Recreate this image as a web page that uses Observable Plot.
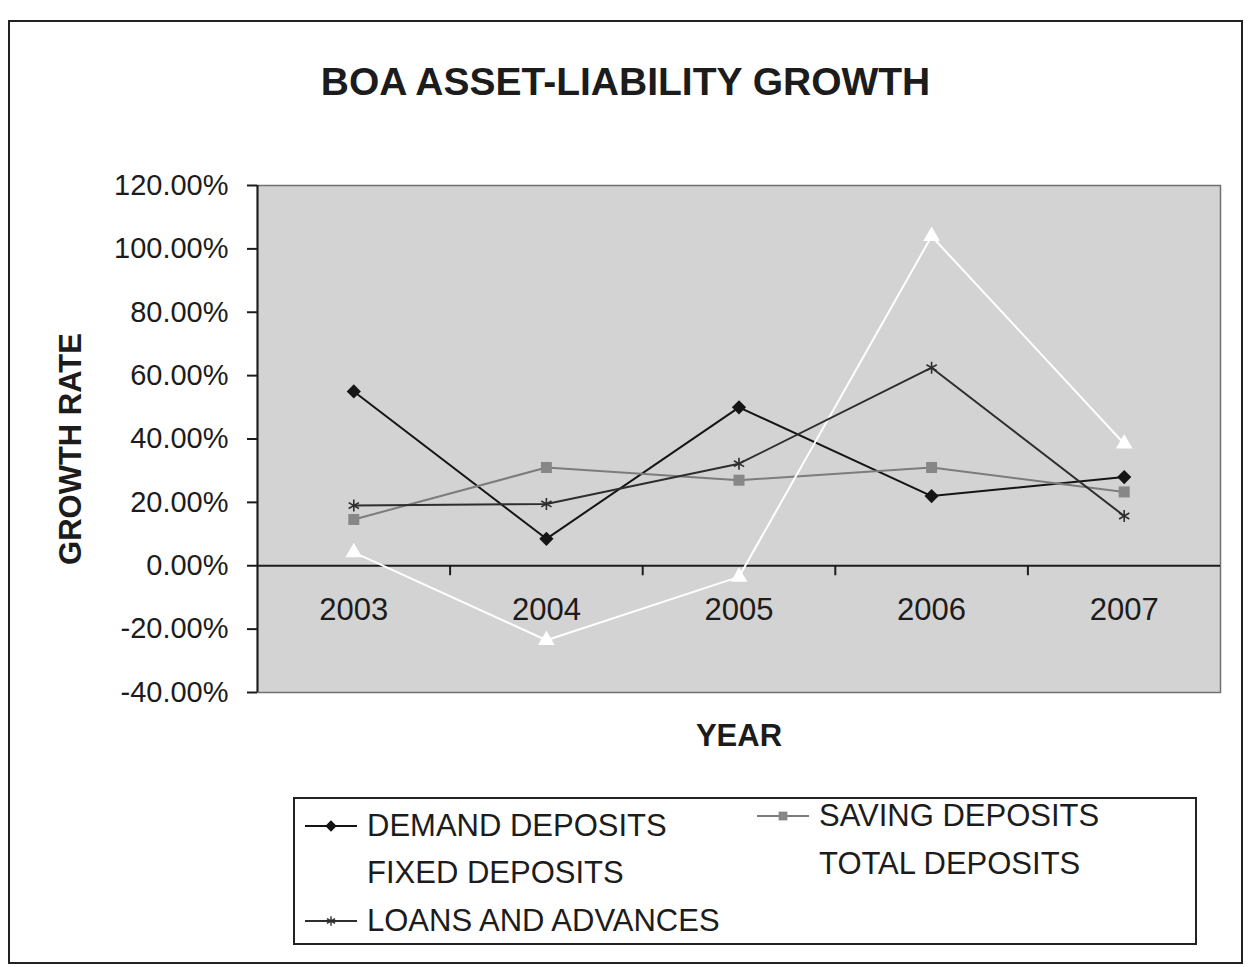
<!DOCTYPE html>
<html>
<head>
<meta charset="utf-8">
<script src="https://cdn.jsdelivr.net/npm/d3@7"></script>
<script src="https://cdn.jsdelivr.net/npm/@observablehq/plot@0.6"></script>
<style>
  body { margin: 0; background: #fff; font-family: "Liberation Sans", Arial, sans-serif; }
  #wrap { position: relative; width: 1257px; height: 967px; overflow: hidden; background: #fff; }
  #frame { position: absolute; left: 8px; top: 20px; width: 1231px; height: 940px; border: 2px solid #222; }
  #title { position: absolute; left: 8px; width: 1235px; top: 62px; line-height: 39px; text-align: center;
           font-weight: bold; font-size: 39px; color: #1c1c1c; }
  #chart { position: absolute; left: 0; top: 130px; }
  #legend { position: absolute; left: 293px; top: 797px; width: 904px; height: 148px; border: 2px solid #222;
            box-sizing: border-box; background: #fff; }
  .item { position: absolute; height: 40px; display: flex; align-items: center; font-size: 31px; color: #1c1c1c; white-space: nowrap; }
  .item svg { margin-right: 10px; }
</style>
</head>
<body>
<div id="wrap">
  <div id="frame"></div>
  <div id="title"></div>
  <div id="chart"></div>
  <div id="legend"></div>
</div>
<script>
// ---- data ----
const chartTitle = "BOA ASSET-LIABILITY GROWTH";
const xTitle = "YEAR";
const yTitle = "GROWTH RATE";
const years = [2003, 2004, 2005, 2006, 2007];
const demandDeposits   = [0.550, 0.085, 0.500, 0.220, 0.280];
const savingDeposits   = [0.146, 0.310, 0.270, 0.310, 0.233];
const fixedDeposits    = null; // not visible in the chart
const totalDeposits    = [0.042, -0.235, -0.035, 1.040, 0.385];
const loansAndAdvances = [0.190, 0.195, 0.322, 0.625, 0.157];
const yTicks = [-0.4, -0.2, 0, 0.2, 0.4, 0.6, 0.8, 1.0, 1.2];
const legendNames = ["DEMAND DEPOSITS", "SAVING DEPOSITS", "FIXED DEPOSITS", "TOTAL DEPOSITS", "LOANS AND ADVANCES"];

// ---- styles (kept separate from data) ----
const styles = {
  "DEMAND DEPOSITS":    {values: demandDeposits,   line: "#151515", fill: "#151515", stroke: "none", symbol: "diamond2", r: 6.4, w: 2},
  "SAVING DEPOSITS":    {values: savingDeposits,   line: "#7c7c7c", fill: "#878787", stroke: "none", symbol: "square",   r: 6.2, w: 2},
  "FIXED DEPOSITS":     {values: fixedDeposits,    line: "#f4f4f4", fill: "#f4f4f4", stroke: "none", symbol: "circle",   r: 0,   w: 0},
  "TOTAL DEPOSITS":     {values: totalDeposits,    line: "#ffffff", fill: "#ffffff", stroke: "none", symbol: "triangle", r: 6.2, w: 2},
  "LOANS AND ADVANCES": {values: loansAndAdvances, line: "#2e2e2e", fill: "none",    stroke: "#2e2e2e", symbol: "asterisk", r: 5.6, w: 2}
};

document.getElementById("title").textContent = chartTitle;

const rowsFor = (name) => {
  const v = styles[name].values;
  return v ? years.map((yr, i) => ({series: name, year: yr, value: v[i]})) : [];
};
const xDomain = [years[0] - 0.5, years[years.length - 1] + 0.5];
const boundaries = years.slice(0, -1).map(y => y + 0.5);
const pct = d3.format(".2%");
const pctFormat = d => pct(d).replace("\u2212", "-");

// draw order like Excel: demand, saving, fixed, total, loans
const seriesMarks = legendNames.flatMap(name => {
  const s = styles[name];
  const data = rowsFor(name);
  if (!data.length) return [];
  return [
    Plot.line(data, {x: "year", y: "value", stroke: s.line, strokeWidth: s.w}),
    Plot.dot(data, {x: "year", y: "value", symbol: s.symbol, r: s.r, fill: s.fill, stroke: s.stroke, strokeWidth: 1.6})
  ];
});

const plot = Plot.plot({
  width: 1257,
  height: 650,
  marginLeft: 257,
  marginRight: 37,
  marginTop: 55,
  marginBottom: 88,
  style: {background: "transparent", fontFamily: "'Liberation Sans', Arial, sans-serif", fontSize: "29px", color: "#1c1c1c", overflow: "visible"},
  x: {domain: xDomain, axis: null},
  y: {domain: [yTicks[0], yTicks[yTicks.length - 1]]},
  marks: [
    Plot.frame({fill: "#d3d3d3", stroke: "#707070", strokeWidth: 1.5}),
    Plot.axisY({ticks: yTicks, tickFormat: pctFormat, tickSize: 10, tickPadding: 19, fontSize: 29, strokeWidth: 2, label: null}),
    Plot.ruleX([xDomain[0]], {stroke: "#1c1c1c", strokeWidth: 2}),
    Plot.ruleY([0], {stroke: "#1c1c1c", strokeWidth: 2}),
    Plot.ruleX(boundaries, {y1: () => 0, y2: () => 0, insetBottom: -10, stroke: "#1c1c1c", strokeWidth: 2}),
    Plot.text(years, {x: d => d, y: () => 0, text: d => String(d), dy: 44, fontSize: 31, fill: "#1c1c1c"}),
    ...seriesMarks,
    Plot.text([yTitle], {frameAnchor: "left", textAnchor: "middle", dx: -186, dy: 10, rotate: -90, fontSize: 31, fontWeight: "bold", fill: "#1c1c1c"}),
    Plot.text([xTitle], {frameAnchor: "bottom", dy: 53, fontSize: 31, fontWeight: "bold", fill: "#1c1c1c"})
  ]
});
document.getElementById("chart").appendChild(plot);

// ---- legend ----
const legend = d3.select("#legend");
const symbolTypes = {diamond2: d3.symbolDiamond2, square: d3.symbolSquare, triangle: d3.symbolTriangle, asterisk: d3.symbolAsterisk, circle: d3.symbolCircle};
const legendPos = [
  {left: 10, top: 7}, {left: 462, top: -3},
  {left: 10, top: 54}, {left: 462, top: 45},
  {left: 10, top: 102}
];
legendNames.forEach((name, i) => {
  const s = styles[name];
  const item = legend.append("div").attr("class", "item")
    .style("left", legendPos[i].left + "px").style("top", legendPos[i].top + "px");
  const sw = item.append("svg").attr("width", 52).attr("height", 20);
  sw.append("line").attr("x1", 0).attr("x2", 52).attr("y1", 10).attr("y2", 10)
    .attr("stroke", s.line).attr("stroke-width", s.w);
  if (s.r > 0) {
    sw.append("path").attr("transform", "translate(26,10)")
      .attr("d", d3.symbol(symbolTypes[s.symbol], Math.PI * (s.r * 0.8) ** 2)())
      .attr("fill", s.fill).attr("stroke", s.stroke).attr("stroke-width", 1.4);
  }
  item.append("span").text(name);
});
</script>
</body>
</html>
